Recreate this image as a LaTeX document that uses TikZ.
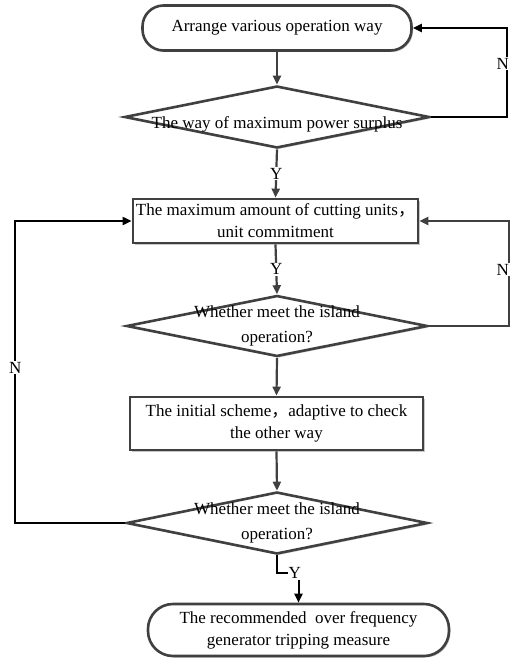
\documentclass[tikz,border=0pt]{standalone}
\usepackage{fontspec}
\setmainfont{Liberation Serif}
\newfontfamily\cjk{Noto Sans CJK SC}
\usepackage{xcolor}
\definecolor{fcgray}{RGB}{64,64,64}
\definecolor{fcshadow}{RGB}{175,175,175}
\usetikzlibrary{arrows.meta,positioning,shapes.geometric,shadows}

\begin{document}
\begin{tikzpicture}[x=1pt, y=-1pt,
  term/.style={rectangle, draw=fcgray, line width=2.6pt, fill=white,
               drop shadow={shadow xshift=1.5pt, shadow yshift=-1.5pt, fill=fcshadow, opacity=0.7},
               inner sep=0pt, align=center, font=\fontsize{17}{22}\selectfont},
  proc/.style={rectangle, draw=fcgray, line width=2.8pt, fill=white,
               drop shadow={shadow xshift=1.5pt, shadow yshift=-1.5pt, fill=fcshadow, opacity=0.7},
               inner sep=0pt, align=center, font=\fontsize{17}{22}\selectfont},
  dec/.style={diamond, draw=fcgray, line width=2.6pt, fill=white, inner sep=0pt,
              drop shadow={shadow xshift=1.5pt, shadow yshift=-1.5pt, fill=fcshadow, opacity=0.7}},
  dtext/.style={align=center, inner sep=0pt, font=\fontsize{17}{25}\selectfont},
  lab/.style={fill=white, inner sep=1pt, font=\fontsize{17}{20}\selectfont},
  arr/.style={-{Triangle[length=9pt, width=8pt]}, line width=2.2pt, draw=fcgray},
  back/.style={-{Triangle[length=9pt, width=8pt]}, line width=2pt, draw=black}
]
\useasboundingbox (0,0) rectangle (510,658);

% Start and end
\node[term, rounded corners=21pt, minimum width=269pt, minimum height=45pt] (start) at (277,28)
  {Arrange various operation way};
\node[term, rounded corners=25pt, minimum width=301pt, minimum height=52pt] (final) at (298.5,630)
  {The recommended\ \ over frequency\\generator tripping measure};

% Decisions
\node[dec, minimum width=305pt, minimum height=62pt] (way) at (277,117)
  {};
\node[dtext, yshift=-7pt] (waytxt) at (way) {The way of maximum power surplus};
\node[dec, minimum width=301pt, minimum height=61pt] (isla) at (277,326)
  {};
\node[dtext] (islatxt) at (isla) {Whether meet the island\\operation?};
\node[dec, minimum width=301pt, minimum height=62pt] (islb) at (277,523)
  {};
\node[dtext] (islbtxt) at (islb) {Whether meet the island\\operation?};

% Processes
\node[proc, minimum width=285pt, minimum height=44pt] (cut) at (275.5,221)
  {The maximum amount of cutting units{\cjk ，}\\unit commitment};
\node[proc, minimum width=293pt, minimum height=53pt] (check) at (276.5,423.5)
  {The initial scheme{\cjk ，}adaptive to check\\the other way};

% Main flow
\draw[arr] (start.south) -- (way.north);
\draw[arr] (way.south) -- node[lab] {Y} (cut.north);
\draw[arr] (cut.south) -- node[lab] {Y} (isla.north);
\draw[arr] (isla.south) -- (check.north);
\draw[arr] (check.south) -- (islb.north);
\draw[line width=2pt] (islb.south) |- ++(11,18) coordinate (yturn);
\node[lab, anchor=west, inner sep=0.5pt] (ylab) at (yturn) {Y};
\draw[back] (final.north |- ylab.south) -- (final.north);

% Loops back
\draw[back] (way.east) -- ++(76,0) |- node[lab, pos=0.3, xshift=-4pt] {N} (start.east);
\draw[arr] (isla.east) -- ++(80,0) |- node[lab, pos=0.267, xshift=-6pt] {N} (cut.east);
\draw[back] (islb.west) -- ++(-110,0) |- node[lab, pos=0.257] {N} (cut.west);
\end{tikzpicture}
\end{document}
